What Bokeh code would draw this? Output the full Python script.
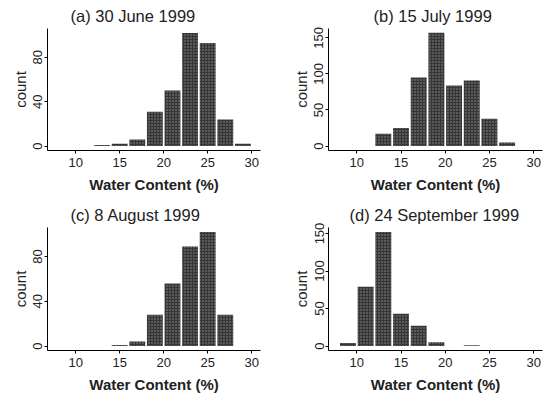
from bokeh.plotting import figure
from bokeh.layouts import column, row
from bokeh.models import FixedTicker, Range1d
from bokeh.embed import file_html
from bokeh.resources import INLINE

# ---- data ----
bin_centers = [9, 11, 13, 15, 17, 19, 21, 23, 25, 27, 29]
counts_a = [0, 0, 1, 2, 6, 31, 50, 102, 93, 24, 2]
counts_b = [0, 0, 17, 25, 95, 157, 84, 91, 38, 5, 0]
counts_c = [0, 0, 0, 1, 4, 28, 56, 89, 102, 28, 0]
counts_d = [4, 79, 152, 43, 27, 5, 0, 1, 0, 0, 0]

titles = ["(a) 30 June 1999", "(b) 15 July 1999",
          "(c) 8 August 1999", "(d) 24 September 1999"]
x_ticks = [10, 15, 20, 25, 30]
y_ticks_small = [0, 40, 80]
y_ticks_large = [0, 50, 100, 150]
x_label = "Water Content (%)"
y_label = "count"

FONT = "Liberation Sans"


def make_panel(title, counts, yticks, yrange, left, right, top, bottom,
               fw, fh, title_offset, title_standoff):
    p = figure(frame_width=fw, frame_height=fh,
               min_border_left=left, min_border_right=right,
               min_border_top=top, min_border_bottom=bottom,
               output_backend="svg", toolbar_location=None,
               x_range=Range1d(6.8, 31.0), y_range=Range1d(*yrange))
    p.title.text = title
    p.title.text_font = FONT
    p.title.text_font_size = "16.5px"
    p.title.text_font_style = "normal"
    p.title.text_color = "#222222"
    p.title.align = "left"
    p.title.offset = title_offset
    p.title.standoff = title_standoff
    p.outline_line_color = None
    p.grid.visible = False
    p.background_fill_color = "white"
    p.border_fill_color = "white"

    p.vbar(x=bin_centers, top=counts, bottom=0, width=1.8,
           fill_color="#363636", line_color=None,
           hatch_pattern="dot", hatch_color="white", hatch_alpha=0.45,
           hatch_scale=3)

    for ax in (p.xaxis[0], p.yaxis[0]):
        ax.axis_line_color = "black"
        ax.axis_line_width = 1
        ax.major_tick_out = 3
        ax.major_tick_in = 0
        ax.minor_tick_out = 0
        ax.minor_tick_in = 0
        ax.major_label_text_font = FONT
        ax.major_label_text_font_size = "13px"
        ax.major_label_text_color = "#222222"
        ax.axis_label_text_font = FONT
        ax.axis_label_text_color = "#222222"

    p.xaxis.ticker = FixedTicker(ticks=x_ticks)
    p.xaxis.axis_label = x_label
    p.xaxis.axis_label_text_font_style = "bold"
    p.xaxis.axis_label_text_font_size = "15px"
    p.xaxis.major_label_standoff = 4
    p.xaxis.axis_label_standoff = 6

    p.yaxis.ticker = FixedTicker(ticks=yticks)
    p.yaxis.axis_label = y_label
    p.yaxis.axis_label_text_font_style = "normal"
    p.yaxis.axis_label_text_font_size = "15px"
    p.yaxis.major_label_orientation = "vertical"
    p.yaxis.major_label_standoff = 2
    p.yaxis.axis_label_standoff = 2
    return p


pa = make_panel(titles[0], counts_a, y_ticks_small, (-4, 106),
                47, 18, 28, 47, 213, 122, 23, 8)
pb = make_panel(titles[1], counts_b, y_ticks_large, (-6.2, 163),
                50, 14, 28, 47, 214, 122, 45, 8)
pc = make_panel(titles[2], counts_c, y_ticks_small, (-4, 106),
                47, 18, 30, 44, 213, 123, 23, 8)
pd = make_panel(titles[3], counts_d, y_ticks_large, (-6, 158),
                50, 14, 30, 44, 214, 123, 21, 8)

layout = column(row(pa, pb), row(pc, pd))

open("out.html", "w").write(file_html(layout, INLINE))
